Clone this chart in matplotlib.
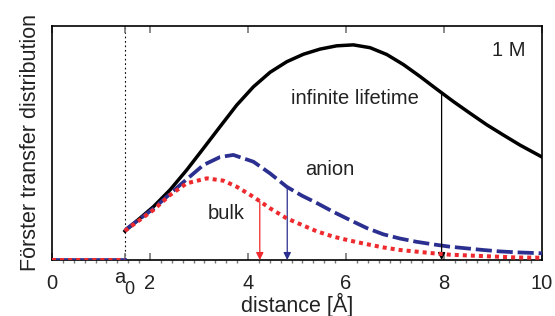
import numpy as np
import matplotlib
matplotlib.use("Agg")
import matplotlib.pyplot as plt
from matplotlib.ticker import MultipleLocator

plt.rcParams['font.family'] = ['Liberation Sans', 'DejaVu Sans']

a0 = 1.49
x_inf = [1.49, 1.51, 2.07, 2.41, 2.75, 3.09, 3.43, 3.77, 4.11, 4.45, 4.79, 5.13, 5.47, 5.81, 6.15,
         6.49, 6.83, 7.17, 7.51, 7.85, 8.19, 8.53, 8.87, 9.21, 9.55, 10.0]
y_inf = [0.124, 0.128, 0.228, 0.30, 0.385, 0.477, 0.57, 0.662, 0.74, 0.802, 0.847, 0.879, 0.901, 0.915, 0.919,
         0.907, 0.878, 0.835, 0.784, 0.730, 0.677, 0.627, 0.578, 0.534, 0.491, 0.44]

x_an = [1.49, 1.52, 2.07, 2.61, 3.09, 3.43, 3.70, 4.11, 4.45, 4.79, 5.10, 5.40, 5.74, 6.08, 6.42,
        6.76, 7.10, 7.44, 7.78, 8.12, 8.46, 8.80, 9.14, 9.48, 10.0]
y_an = [0.124, 0.133, 0.22, 0.32, 0.406, 0.44, 0.449, 0.42, 0.37, 0.313, 0.275, 0.244, 0.206, 0.171, 0.137,
        0.11, 0.092, 0.078, 0.067, 0.057, 0.05, 0.043, 0.037, 0.033, 0.029]

x_bk = [1.49, 1.52, 2.07, 2.41, 2.75, 3.16, 3.50, 3.77, 4.11, 4.45, 4.79, 5.10, 5.40, 5.74, 6.08,
        6.42, 6.76, 7.10, 7.44, 7.78, 8.12, 8.80, 9.48, 10.0]
y_bk = [0.124, 0.13, 0.214, 0.278, 0.328, 0.349, 0.339, 0.313, 0.27, 0.221, 0.178, 0.15, 0.123, 0.10, 0.083,
        0.068, 0.054, 0.043, 0.036, 0.029, 0.023, 0.017, 0.011, 0.01]

arrow_x = {'bulk': 4.24, 'anion': 4.8, 'inf': 7.95}
xticks = [0, a0, 2, 4, 6, 8, 10]
xticklabels = ['0', '', '2', '4', '6', '8', '10']

fig = plt.figure(figsize=(5.55, 3.16), dpi=100)
ax = fig.add_axes([0.0937, 0.177, 0.883, 0.741])

blue = '#2b2f8f'
red = '#ee2a2f'
dash_blue = (0, (4.3, 1.3))
dot_red = (0, (1.0, 1.0))

ax.plot([0, a0], [0, 0], color='black', lw=2.4, zorder=2)
ax.plot([0, a0], [0, 0], color=blue, lw=2.6, zorder=3)
ax.plot([0, a0], [0, 0], color=red, lw=2.9, ls=dot_red, zorder=4)

ax.plot(x_inf, y_inf, color='black', lw=2.5, zorder=2, solid_joinstyle='round')
ax.plot(x_an, y_an, color=blue, lw=2.7, ls=dash_blue, zorder=3)
ax.plot(x_bk, y_bk, color=red, lw=2.9, ls=dot_red, zorder=4)

ax.axvline(a0, color='black', lw=0.8, ls=(0, (1.5, 2.5)), zorder=1)

def arrow(x, xs, ys, color):
    y0 = np.interp(x, xs, ys)
    ax.annotate('', xy=(x, 0.0), xytext=(x, y0),
                arrowprops=dict(arrowstyle='-|>', color=color, lw=0.9,
                                mutation_scale=11, shrinkA=0, shrinkB=0))

arrow(arrow_x['bulk'], x_bk, y_bk, red)
arrow(arrow_x['anion'], x_an, y_an, blue)
arrow(arrow_x['inf'], x_inf, y_inf, 'black')

fs_txt = 14.5
ax.text(6.18, 0.692, 'infinite lifetime', fontsize=fs_txt, ha='center', va='center', color='#222222')
ax.text(5.67, 0.385, 'anion', fontsize=fs_txt, ha='center', va='center', color='#222222')
ax.text(3.56, 0.2, 'bulk', fontsize=fs_txt, ha='center', va='center', color='#222222')
ax.text(9.31, 0.894, '1 M', fontsize=fs_txt, ha='center', va='center', color='#222222')

ax.set_xlim(0, 10)
ax.set_ylim(0, 1)
ax.set_xticks(xticks)
ax.set_xticklabels(xticklabels)
ax.set_yticks([])
ax.xaxis.set_minor_locator(MultipleLocator(2/9))
ax.tick_params(axis='x', which='major', direction='in', length=5, width=1.2, color='#777777',
               top=True, pad=10, labelsize=14.5, labelcolor='#222222')
ax.tick_params(axis='x', which='minor', direction='out', length=2, width=1, color='#777777', top=False)

# a0 tick label: 'a' with a large, lowered subscript 0
trans = ax.get_xaxis_transform()
ax.text(1.39, -0.1, 'a', transform=trans, fontsize=14.5, ha='center', va='baseline',
        color='#222222', clip_on=False)
ax.text(1.575, -0.143, '0', transform=trans, fontsize=13, ha='center', va='baseline',
        color='#222222', clip_on=False)

for s in ax.spines.values():
    s.set_linewidth(1.2)
ax.set_xlabel('distance [Å]', fontsize=15.5, color='#222222', labelpad=0)
ax.set_ylabel('Förster transfer distribution', fontsize=15.5, color='#222222', labelpad=8)

fig.savefig('out.png', dpi=100)
